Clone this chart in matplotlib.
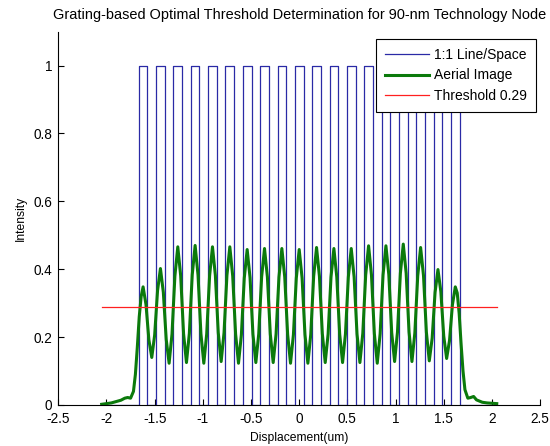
import matplotlib.pyplot as plt
import numpy as np
from matplotlib.ticker import FormatStrFormatter

plt.rcParams['font.family'] = ['Liberation Sans', 'DejaVu Sans']
plt.rcParams['font.size'] = 8.7

# mask: 1:1 line/space grating, 90 nm lines on 180 nm pitch (um)
line_centers = [-1.62, -1.44, -1.26, -1.08, -0.90, -0.72, -0.54, -0.36, -0.18, 0.0,
                0.18, 0.36, 0.54, 0.72, 0.90, 1.08, 1.26, 1.44, 1.62]
line_width = 0.09
x_domain = [-2.05, 2.05]

# aerial image, edge tails and the periodic core sampled every 0.03 um
left_x = [-2.05, -2.00, -1.95, -1.90, -1.85, -1.81, -1.78, -1.75, -1.72, -1.70, -1.68, -1.66, -1.64]
left_y = [0.002, 0.004, 0.006, 0.010, 0.014, 0.020, 0.022, 0.020, 0.040, 0.090, 0.170, 0.260, 0.320]
core_y = [0.348, 0.296, 0.192, 0.140, 0.206, 0.337,
          0.402, 0.332, 0.193, 0.123, 0.209, 0.380,
          0.466, 0.381, 0.210, 0.125, 0.211, 0.384,
          0.470, 0.383, 0.210, 0.123, 0.209, 0.380,
          0.466, 0.382, 0.213, 0.128, 0.213, 0.382,
          0.466, 0.380, 0.209, 0.123, 0.207, 0.374,
          0.458, 0.375, 0.208, 0.125, 0.209, 0.377,
          0.461, 0.377, 0.209, 0.125, 0.209, 0.377,
          0.461, 0.377, 0.208, 0.123, 0.207, 0.374,
          0.458, 0.374, 0.207, 0.123, 0.208, 0.379,
          0.464, 0.379, 0.210, 0.125, 0.209, 0.377,
          0.461, 0.377, 0.209, 0.125, 0.209, 0.377,
          0.461, 0.377, 0.209, 0.125, 0.211, 0.383,
          0.469, 0.383, 0.210, 0.123, 0.210, 0.383,
          0.469, 0.384, 0.213, 0.128, 0.215, 0.388,
          0.474, 0.388, 0.215, 0.128, 0.212, 0.380,
          0.464, 0.381, 0.214, 0.130, 0.197, 0.332,
          0.399, 0.334, 0.203, 0.137, 0.190, 0.295,
          0.348]
right_x = [1.64, 1.66, 1.68, 1.70, 1.72, 1.75, 1.78, 1.81, 1.84, 1.90, 1.95, 2.00, 2.05]
right_y = [0.330, 0.270, 0.180, 0.100, 0.045, 0.020, 0.022, 0.025, 0.015, 0.008, 0.006, 0.005, 0.004]

threshold = 0.29

# step outline of the mask
mask_x = [x_domain[0]]
mask_y = [0]
for c in line_centers:
    lo, hi = c - line_width / 2, c + line_width / 2
    mask_x += [lo, lo, hi, hi]
    mask_y += [0, 1, 1, 0]
mask_x.append(x_domain[1])
mask_y.append(0)

core_x = np.linspace(line_centers[0], line_centers[-1], len(core_y))
aerial_x = np.concatenate([left_x, core_x, right_x])
aerial_y = np.concatenate([left_y, core_y, right_y])

fig = plt.figure(figsize=(5.5, 4.46), dpi=100)
ax = fig.add_axes([0.106, 0.092, 0.876, 0.837])

ax.plot(mask_x, mask_y, color='#2a2aa6', lw=0.9, label='1:1 Line/Space')
ax.plot(aerial_x, aerial_y, color='#0b7a0b', lw=2.2, label='Aerial Image')
ax.plot(x_domain, [threshold, threshold], color='#ff2020', lw=0.9, label='Threshold 0.29')

ax.set_xlim(-2.5, 2.5)
ax.set_ylim(0, 1.1)
ax.set_xticks(np.arange(-2.5, 2.51, 0.5))
ax.set_yticks(np.arange(0, 1.01, 0.2))
ax.xaxis.set_major_formatter(FormatStrFormatter('%g'))
ax.yaxis.set_major_formatter(FormatStrFormatter('%g'))
ax.tick_params(direction='in', length=4, width=0.8, pad=4.3, labelsize=9.8)
ax.tick_params(axis='x', pad=5.3)
ax.spines['top'].set_visible(False)
ax.spines['right'].set_visible(False)

ax.set_title('Grating-based Optimal Threshold Determination for 90-nm Technology Node', pad=9)
ax.set_xlabel('Displacement(um)', labelpad=4)
ax.set_ylabel('Intensity', labelpad=5)

leg = ax.legend(loc='upper right', bbox_to_anchor=(0.992, 0.980), borderaxespad=0,
                fancybox=False, framealpha=1, edgecolor='black', fontsize=10,
                handlelength=3.2, labelspacing=0.45, borderpad=0.65, handletextpad=0.35)
leg.get_frame().set_linewidth(0.8)

fig.savefig('out.png', dpi=100)
